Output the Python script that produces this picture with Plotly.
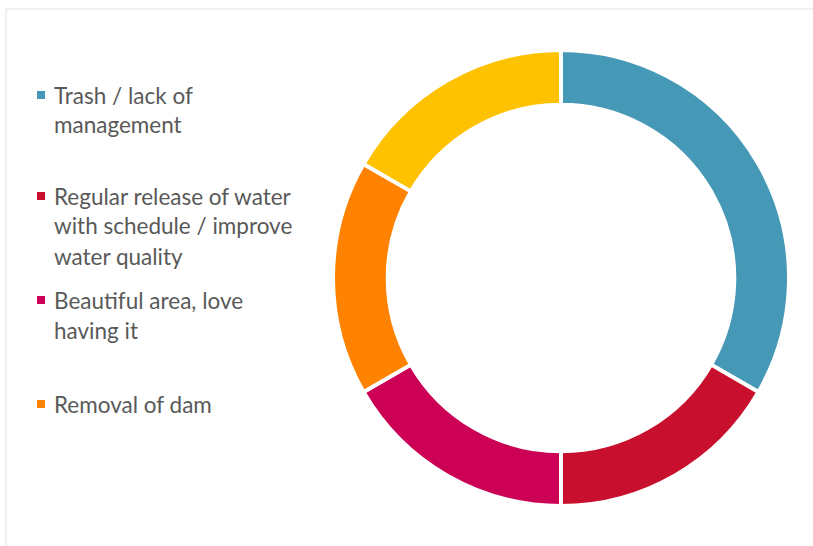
import plotly.graph_objects as go

# Responses grouped by theme
labels = [
    "Trash / lack of management",
    "Regular release of water with schedule / improve water quality",
    "Beautiful area, love having it",
    "Removal of dam",
    "Other",
]
values = [2, 1, 1, 1, 1]
colors = ["#4599B6", "#C8102E", "#CC0055", "#FF8200", "#FFC200"]

# Legend entries shown (text split over wrapped lines)
legend_lines = [
    ["Trash / lack of", "management"],
    ["Regular release of water", "with schedule / improve", "water quality"],
    ["Beautiful area, love", "having it"],
    ["Removal of dam"],
]
legend_colors = colors[:4]

W, H = 813, 546

fig = go.Figure(
    go.Pie(
        labels=labels,
        values=values,
        hole=0.76,
        sort=False,
        direction="clockwise",
        rotation=0,
        marker=dict(colors=colors, line=dict(color="white", width=4)),
        textinfo="none",
        hoverinfo="label+percent",
        showlegend=False,
        domain=dict(x=[333 / W, 789 / W], y=[1 - 506 / H, 1 - 50 / H]),
    )
)

shapes = [
    # light frame round the chart area
    dict(type="rect", xref="paper", yref="paper",
         x0=6 / W, x1=1.01, y0=-0.01, y1=1 - 9 / H,
         line=dict(color="#EFEFEF", width=2), fillcolor="rgba(0,0,0,0)", layer="below"),
]
annotations = []

first_line_y = [95, 196, 300, 404]
line_gap = 30
for lines, col, y0 in zip(legend_lines, legend_colors, first_line_y):
    shapes.append(dict(type="rect", xref="paper", yref="paper",
                       x0=37 / W, x1=45 / W, y0=1 - (y0 + 4) / H, y1=1 - (y0 - 4) / H,
                       line=dict(width=0), fillcolor=col))
    for i, t in enumerate(lines):
        yc = y0 + i * line_gap
        annotations.append(dict(text=t, xref="paper", yref="paper",
                                x=52 / W, y=1 - yc / H, xanchor="left", yanchor="middle",
                                showarrow=False,
                                font=dict(family="Lato, sans-serif", size=22.5, color="#595959")))

fig.update_layout(
    width=W, height=H,
    margin=dict(l=0, r=0, t=0, b=0),
    paper_bgcolor="white",
    plot_bgcolor="white",
    shapes=shapes,
    annotations=annotations,
)

fig.write_html("out.html")
